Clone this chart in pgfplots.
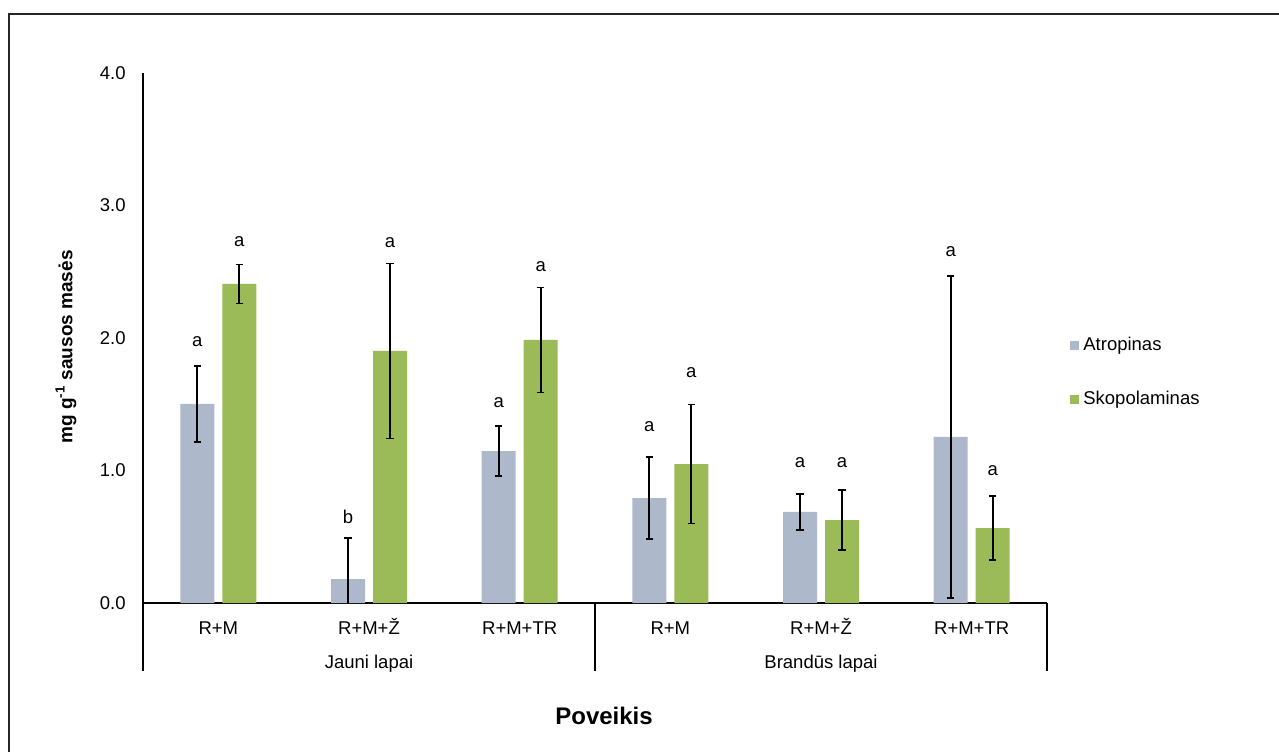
\documentclass[border=0pt]{standalone}
\usepackage{pgfplots}
\pgfplotsset{compat=1.18}
\usepackage{pgfplotstable}
\usepackage{fontspec}
\setmainfont{Liberation Sans}

\definecolor{atrop}{RGB}{173,185,202}
\definecolor{skop}{RGB}{155,187,89}

\newcommand{\lblfont}{\fontsize{9.25pt}{11pt}\selectfont}

% group index, atropine mean, sd, scopolamine mean, sd
\pgfplotstableread{
x a ae s se
0 1.502 0.287 2.408 0.147
1 0.181 0.309 1.902 0.660
2 1.147 0.189 1.985 0.396
3 0.792 0.309 1.049 0.449
4 0.687 0.136 0.626 0.226
5 1.253 1.215 0.566 0.242
}\datatable

\pgfplotsset{sqlegend/.style={legend image code/.code={\fill[##1,draw=none] (0pt,-2.25pt) rectangle (4.5pt,2.25pt);}}}

\begin{document}
\begin{tikzpicture}
\useasboundingbox (0,0) rectangle (639.5pt,375.5pt);
% frame
\draw[black!85,line width=0.6pt] (4.5pt,-2pt) -- (4.5pt,368.5pt) -- (642pt,368.5pt);
\begin{axis}[
  at={(71.5pt,74pt)}, anchor=south west,
  scale only axis, width=452pt, height=265pt,
  clip mode=individual,
  ybar=4pt, bar width=17pt,
  xmin=-0.5, xmax=5.5, ymin=0, ymax=4,
  axis x line*=bottom, axis y line*=left,
  axis line style={black, line width=0.6pt},
  major tick length=0pt,
  xtick={0,...,5},
  xticklabels={R+M, R+M+Ž, R+M+TR, R+M, R+M+Ž, R+M+TR},
  xticklabel style={font=\lblfont, anchor=base, inner sep=0pt, yshift=-15.8pt},
  ytick={0,1,2,3,4},
  yticklabel style={font=\lblfont, anchor=east, inner sep=0pt, xshift=-8.5pt,
    /pgf/number format/.cd, fixed, fixed zerofill, precision=1, assume math mode=true},
  ylabel={\textbf{mg g\textsuperscript{-1} sausos masės}},
  ylabel style={font=\fontsize{9.5pt}{11pt}\selectfont, at={(axis description cs:-0.0852,0.483)}, anchor=center},
  xlabel={\textbf{Poveikis}},
  xlabel style={font=\fontsize{12pt}{14pt}\selectfont, at={(axis description cs:0.51,-0.213)}, anchor=center},
  legend style={at={(axis description cs:1.0254,0.4358)}, anchor=west, draw=none, fill=none,
    font=\lblfont, inner sep=0pt, row sep=18pt, column sep=2pt,
    nodes={inner sep=0pt, text height=7pt, text depth=2pt}},
  legend cell align=left,
  error bars/error bar style={black, line width=0.85pt},
  error bars/error mark options={black, line width=0.85pt, mark size=1.9pt, rotate=90},
]
\addplot[fill=atrop, draw=none, sqlegend,
  error bars/.cd, y dir=both, y explicit]
  table[x=x, y=a, y error=ae] {\datatable};
\addlegendentry{Atropinas}
\addplot[fill=skop, draw=none, sqlegend,
  error bars/.cd, y dir=both, y explicit]
  table[x=x, y=s, y error=se] {\datatable};
\addlegendentry{Skopolaminas}

% significance letters, atropine
\node[font=\lblfont, inner sep=0pt] at (axis cs:-0.1394,1.97) {a};
\node[font=\lblfont, inner sep=0pt] at (axis cs:0.8606,0.65) {b};
\node[font=\lblfont, inner sep=0pt] at (axis cs:1.8606,1.51) {a};
\node[font=\lblfont, inner sep=0pt] at (axis cs:2.8606,1.33) {a};
\node[font=\lblfont, inner sep=0pt] at (axis cs:3.8606,1.06) {a};
\node[font=\lblfont, inner sep=0pt] at (axis cs:4.8606,2.65) {a};
% significance letters, scopolamine
\node[font=\lblfont, inner sep=0pt] at (axis cs:0.1394,2.73) {a};
\node[font=\lblfont, inner sep=0pt] at (axis cs:1.1394,2.72) {a};
\node[font=\lblfont, inner sep=0pt] at (axis cs:2.1394,2.54) {a};
\node[font=\lblfont, inner sep=0pt] at (axis cs:3.1394,1.74) {a};
\node[font=\lblfont, inner sep=0pt] at (axis cs:4.1394,1.06) {a};
\node[font=\lblfont, inner sep=0pt] at (axis cs:5.1394,1.00) {a};

% group separators and group names
\draw[black, line width=0.6pt] (axis cs:-0.5,0) -- ([yshift=-34pt]axis cs:-0.5,0);
\draw[black, line width=0.6pt] (axis cs:2.5,0) -- ([yshift=-34pt]axis cs:2.5,0);
\draw[black, line width=0.6pt] (axis cs:5.5,0) -- ([yshift=-34pt]axis cs:5.5,0);
\node[font=\lblfont, anchor=base, inner sep=0pt] at ([yshift=-32.5pt]axis cs:1,0) {Jauni lapai};
\node[font=\lblfont, anchor=base, inner sep=0pt] at ([yshift=-32.5pt]axis cs:4,0) {Brandūs lapai};
\end{axis}
\end{tikzpicture}
\end{document}
